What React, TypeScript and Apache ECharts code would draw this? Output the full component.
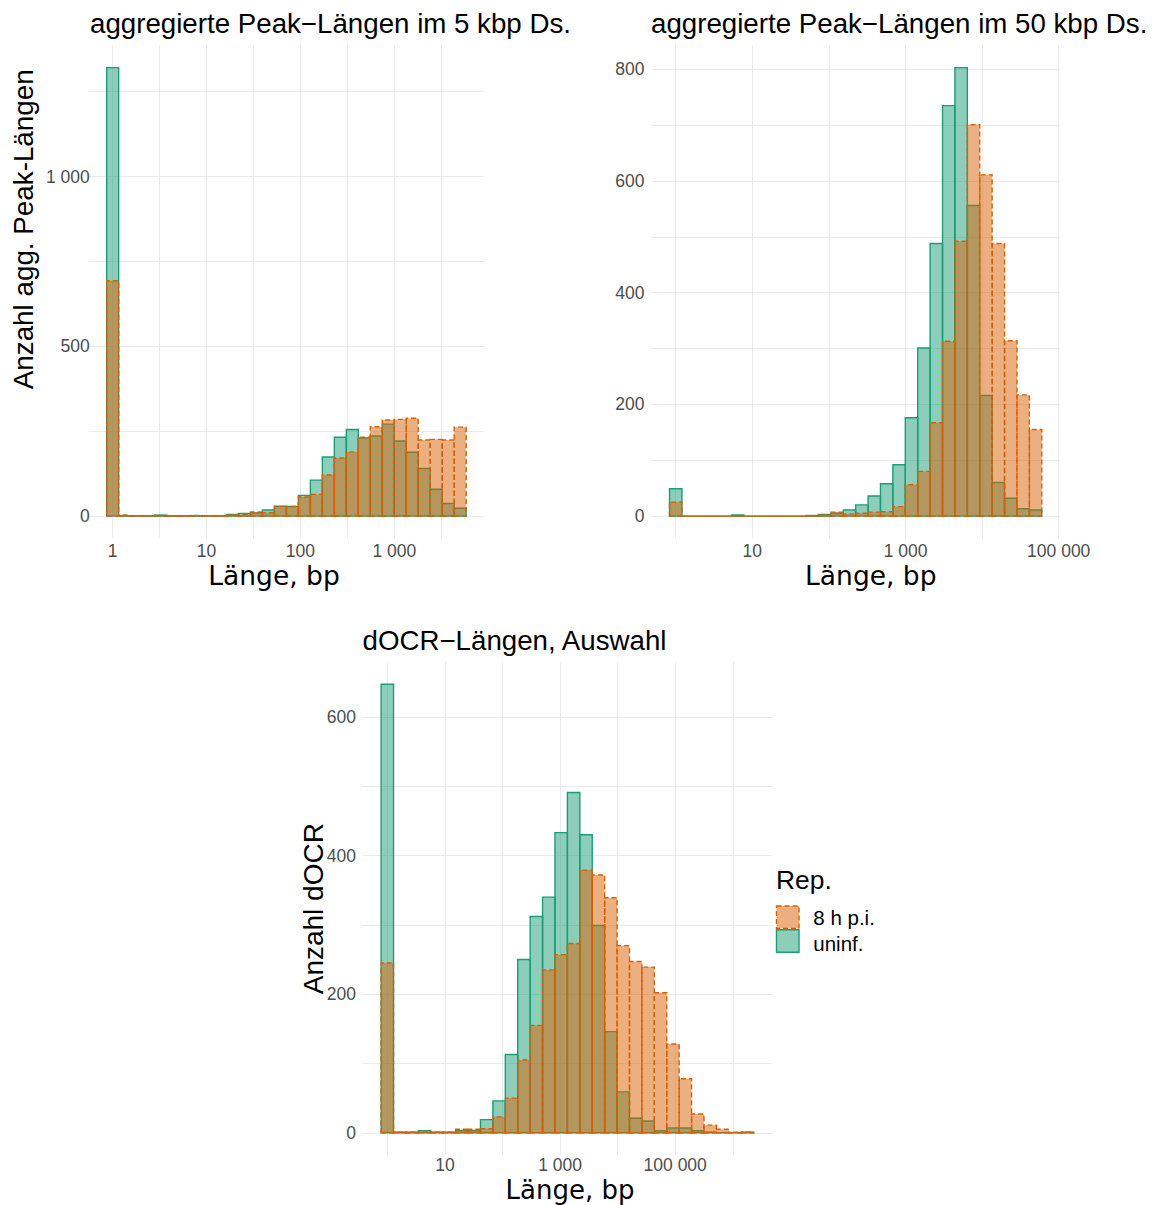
import React, { useEffect, useRef } from "react";
import * as echarts from "echarts";

// ---------- data (counts per histogram bin, bins equally spaced in log10(bp)) ----------
const groupLabels = ["8 h p.i.", "uninf."];

// Panel 1: aggregierte Peak-Längen im 5 kbp Ds. (30 bins, first bin centred at 1 bp)
const binWidth5k = 0.1276;
const peak5kInf = [693, 3, 1, 1, 2, 1, 1, 2, 1, 1, 3, 4, 12, 10, 28, 28, 56, 64, 121, 171, 189, 232, 263, 283, 285, 288, 224, 226, 224, 262];
const peak5kUninf = [1321, 1, 1, 1, 3, 1, 1, 1, 1, 1, 5, 8, 9, 18, 29, 28, 61, 106, 174, 232, 255, 230, 236, 271, 221, 188, 140, 79, 37, 23];

// Panel 2: aggregierte Peak-Längen im 50 kbp Ds.
const binWidth50k = 0.162;
const peak50kInf = [25, 0, 0, 0, 0, 0, 0, 0, 0, 0, 0, 0, 2, 7, 4, 5, 7, 8, 17, 56, 80, 167, 313, 492, 701, 611, 488, 314, 217, 155];
const peak50kUninf = [49, 0, 0, 0, 0, 2, 0, 0, 0, 0, 0, 1, 3, 5, 11, 20, 36, 58, 92, 176, 301, 488, 735, 803, 556, 216, 60, 32, 13, 11];

// Panel 3: dOCR-Längen, Auswahl
const binWidthDocr = 0.2157;
const docrInf = [245, 1, 1, 1, 1, 1, 5, 5, 6, 23, 50, 105, 155, 235, 257, 273, 379, 372, 339, 270, 247, 239, 202, 128, 78, 27, 11, 5, 1, 1];
const docrUninf = [647, 1, 1, 3, 1, 1, 3, 3, 19, 46, 113, 250, 312, 340, 433, 491, 430, 299, 146, 59, 21, 17, 3, 7, 7, 3, 1, 0, 0, 1];

// ticks (x in log10 bp)
const x1Grid = [0, 0.5, 1, 1.5, 2, 2.5, 3, 3.5];
const x1Labels = [0, 1, 2, 3];
const x2Grid = [0, 1, 2, 3, 4, 5];
const x2Labels = [1, 3, 5];
const x3Grid = [0, 1, 2, 3, 4, 5, 6];
const x3Labels = [1, 3, 5];
const y1Grid = [0, 250, 500, 750, 1000, 1250];
const y1Labels = [0, 500, 1000];
const y2Grid = [0, 100, 200, 300, 400, 500, 600, 700, 800];
const y2Labels = [0, 200, 400, 600, 800];
const y3Grid = [0, 100, 200, 300, 400, 500, 600];
const y3Labels = [0, 200, 400, 600];

// ---------- styling ----------
const ORANGE = "#D95F02";
const GREEN = "#1B9E77";
const ORANGE_FILL = "rgba(217,95,2,0.5)";
const GREEN_FILL = "rgba(27,158,119,0.5)";
const GRID_COLOR = "#EBEBEB";
const SANS = "'Liberation Sans', Arial, Helvetica, sans-serif";
const DEJAVU = "'DejaVu Sans', Verdana, sans-serif";
const LINE_W = 1.4;
const DASH = [5, 3];

const fmtNum = (n: number) => String(Math.round(n)).replace(/\B(?=(\d{3})+(?!\d))/g, " ");

const panels = [
  {
    w: binWidth5k, inf: peak5kInf, uninf: peak5kUninf,
    grid: { left: 88.7, top: 45.2, width: 395.4, height: 493.3 },
    xGrid: x1Grid, xLabels: x1Labels, yGrid: y1Grid, yLabels: y1Labels, yMargin: -1, xMargin: 4.5,
  },
  {
    w: binWidth50k, inf: peak50kInf, uninf: peak50kUninf,
    grid: { left: 650.9, top: 45.2, width: 409.5, height: 493.3 },
    xGrid: x2Grid, xLabels: x2Labels, yGrid: y2Grid, yLabels: y2Labels, yMargin: 6.5, xMargin: 4.5,
  },
  {
    w: binWidthDocr, inf: docrInf, uninf: docrUninf,
    grid: { left: 362.5, top: 661.9, width: 409.8, height: 493.3 },
    xGrid: x3Grid, xLabels: x3Labels, yGrid: y3Grid, yLabels: y3Labels, yMargin: 6.5, xMargin: 2,
  },
];

function buildOption() {
  const grids: any[] = [];
  const xAxes: any[] = [];
  const yAxes: any[] = [];
  const series: any[] = [];

  panels.forEach((p, i) => {
    const n = p.inf.length;
    const lo = -p.w / 2;
    const hi = (n - 0.5) * p.w;
    const ex = (hi - lo) * 0.05;
    const ymax = Math.max(...p.inf, ...p.uninf);

    grids.push({ ...p.grid, containLabel: false });
    xAxes.push({
      type: "value",
      gridIndex: i,
      min: lo - ex,
      max: hi + ex,
      axisLine: { show: false },
      axisTick: { show: false, customValues: p.xGrid },
      splitLine: { show: true, lineStyle: { color: GRID_COLOR, width: 1 } },
      axisLabel: {
        customValues: p.xLabels,
        formatter: (v: number) => fmtNum(Math.pow(10, v)),
        margin: p.xMargin,
        lineHeight: 15,
        color: "#4D4D4D",
        fontSize: 17.5,
        fontFamily: SANS,
      },
    });
    yAxes.push({
      type: "value",
      gridIndex: i,
      min: -0.05 * ymax,
      max: 1.05 * ymax,
      axisLine: { show: false },
      axisTick: { show: false, customValues: p.yGrid },
      splitLine: { show: true, lineStyle: { color: GRID_COLOR, width: 1 } },
      axisLabel: {
        customValues: p.yLabels,
        formatter: (v: number) => fmtNum(v),
        margin: p.yMargin,
        lineHeight: 15,
        color: "#4D4D4D",
        fontSize: 17.5,
        fontFamily: SANS,
      },
    });

    const mk = (vals: number[], fill: string, stroke: string, dash: number[] | null, name: string) => ({
      type: "custom",
      name,
      xAxisIndex: i,
      yAxisIndex: i,
      encode: { x: 0, y: 1 },
      data: vals.map((v, k) => [k * p.w, v]),
      renderItem: (_params: any, api: any) => {
        const c = api.value(0);
        const v = api.value(1);
        const a = api.coord([c - p.w / 2, 0]);
        const b = api.coord([c + p.w / 2, v]);
        return {
          type: "polygon",
          shape: { points: [[a[0], a[1]], [b[0], a[1]], [b[0], b[1]], [a[0], b[1]]] },
          style: { fill, stroke, lineWidth: LINE_W, lineDash: dash || undefined },
        };
      },
    });
    series.push(mk(p.uninf, GREEN_FILL, GREEN, null, groupLabels[1]));
    series.push(mk(p.inf, ORANGE_FILL, ORANGE, DASH, groupLabels[0]));
  });

  const txt = (text: string, x: number, y: number, size: number, opts: any = {}) => ({
    type: "text",
    x,
    y,
    rotation: opts.rotation || 0,
    silent: true,
    style: {
      text,
      fill: opts.color || "#000000",
      fontSize: size,
      fontFamily: opts.family || SANS,
      lineHeight: opts.lineHeight || Math.round(size * 0.8),
      align: opts.align || "left",
      verticalAlign: "middle",
      textAlign: opts.align || "left",
      textVerticalAlign: "middle",
    },
  });

  const graphic: any[] = [
    txt("aggregierte Peak\u2212Längen im 5 kbp Ds.", 90, 23.4, 27.7),
    txt("aggregierte Peak\u2212Längen im 50 kbp Ds.", 651, 23.4, 27.7),
    txt("dOCR\u2212Längen, Auswahl", 362.5, 640.4, 27.7),
    txt("Länge, bp", 274, 575.6, 26.5, { align: "center", family: DEJAVU }),
    txt("Länge, bp", 870.8, 575.6, 26.5, { align: "center", family: DEJAVU }),
    txt("Länge, bp", 570, 1189.6, 26, { align: "center", family: DEJAVU }),
    txt("Anzahl agg. Peak-Längen", 23.7, 229.3, 27.8, { align: "center", rotation: Math.PI / 2 }),
    txt("Anzahl dOCR", 313.6, 908.7, 28, { align: "center", rotation: Math.PI / 2 }),
    txt("Rep.", 776, 880.1, 26.4),
    {
      type: "rect",
      shape: { x: 776.5, y: 906, width: 22.5, height: 22.5 },
      style: { fill: ORANGE_FILL, stroke: ORANGE, lineWidth: LINE_W, lineDash: DASH },
    },
    {
      type: "rect",
      shape: { x: 776.5, y: 929.8, width: 22.5, height: 22.5 },
      style: { fill: GREEN_FILL, stroke: GREEN, lineWidth: LINE_W },
    },
    txt(groupLabels[0], 813.3, 917, 20.5),
    txt(groupLabels[1], 813.3, 943.5, 20.5),
  ];

  return {
    animation: false,
    backgroundColor: "#ffffff",
    grid: grids,
    xAxis: xAxes,
    yAxis: yAxes,
    series,
    graphic,
  };
}

export default function App() {
  const ref = useRef<HTMLDivElement>(null);
  useEffect(() => {
    document.body.style.margin = "0";
    const chart = echarts.init(ref.current as HTMLDivElement, null, { renderer: "svg" });
    chart.setOption(buildOption() as any);
    return () => chart.dispose();
  }, []);
  return (
    <div
      ref={ref}
      style={{ position: "absolute", left: 0, top: 0, width: 1156, height: 1205 }}
    />
  );
}
